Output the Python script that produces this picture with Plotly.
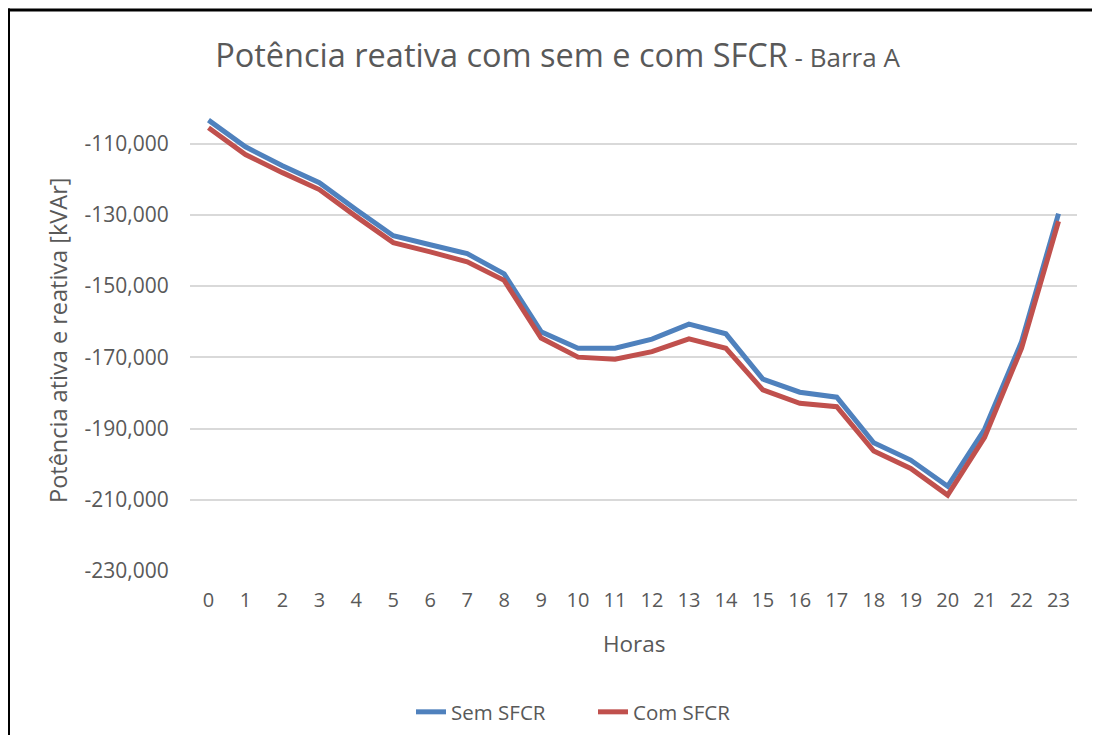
import plotly.graph_objects as go

horas = list(range(24))
sem_sfcr = [-103400, -110900, -116200, -121000, -128550, -135850, -138400, -140900,
            -146550, -162800, -167450, -167450, -164900, -160700, -163400, -176100,
            -179800, -181200, -194000, -198850, -206200, -190200, -165600, -129650]
com_sfcr = [-105550, -113060, -118150, -122900, -130500, -137800, -140400, -143200,
            -148400, -164600, -169950, -170550, -168400, -164800, -167450, -179150,
            -182900, -183850, -196300, -201200, -208700, -192500, -167450, -131800]
y_ticks = [-230000, -210000, -190000, -170000, -150000, -130000, -110000, -100000]
y_labels = ["-230,000", "-210,000", "-190,000", "-170,000", "-150,000", "-130,000", "-110,000", ""]

FONT = "Open Sans"
GRAY = "#595959"
OFF = 8  # page body margin
W, H = 1100 - OFF, 743 - 2 * OFF
L, R, T, B = 190 - OFF, 1077 - OFF, 108 - OFF, 571 - OFF

fig = go.Figure()
fig.add_trace(go.Scatter(x=horas, y=sem_sfcr, mode="lines", name="Sem SFCR",
                         line=dict(color="#4F81BD", width=5)))
fig.add_trace(go.Scatter(x=horas, y=com_sfcr, mode="lines", name="Com SFCR",
                         line=dict(color="#C0504D", width=5)))

def px(x):
    return (x - OFF - L) / (R - L)

def py(y):
    return (B - (y - OFF)) / (B - T)

fig.update_layout(
    width=W, height=H,
    margin=dict(l=L, r=W - R, t=T, b=H - B),
    paper_bgcolor="white", plot_bgcolor="white",
    font=dict(family=FONT, color=GRAY, size=20),
    title=dict(text="Potência reativa com sem e com SFCR<span style='font-size:26px'> - Barra A</span>",
               font=dict(family=FONT, size=32.5, color=GRAY),
               x=(557.5 - OFF) / W, xanchor="center", xref="container",
               y=1 - (56 - OFF) / H, yanchor="middle", yref="container"),
    xaxis=dict(type="linear", range=[-0.5, 23.5], tickvals=horas, ticktext=[str(h) for h in horas],
               showgrid=False, zeroline=False, showline=False,
               ticks="outside", ticklen=11, tickcolor="rgba(0,0,0,0)",
               tickfont=dict(size=20, color=GRAY)),
    yaxis=dict(range=[-230000, -100000], tickvals=y_ticks, ticktext=y_labels,
               showgrid=True, gridcolor="#D9D9D9", gridwidth=1.5, zeroline=False, showline=False,
               ticks="outside", ticklen=16, tickcolor="rgba(0,0,0,0)",
               tickfont=dict(size=21, color=GRAY)),
    legend=dict(orientation="h", xref="container", yref="container",
                x=(593 - OFF) / W, xanchor="center", y=1 - (712 - OFF) / H, yanchor="middle",
                font=dict(size=20.5, color=GRAY), entrywidth=137),
    showlegend=True,
)

fig.add_annotation(text="Horas", xref="paper", yref="paper", x=px(634), y=py(643),
                   showarrow=False, font=dict(size=22.5, color=GRAY), xanchor="center", yanchor="middle")
fig.add_annotation(text="Potência ativa e reativa [kVAr]", xref="paper", yref="paper",
                   x=px(58), y=py(341), textangle=-90, showarrow=False,
                   font=dict(size=23.5, color=GRAY), xanchor="center", yanchor="middle")

# chart-area border (top and left edges visible)
fig.add_shape(type="line", xref="paper", yref="paper", x0=px(8), x1=px(1100), y0=py(10), y1=py(10),
              line=dict(color="black", width=3))
fig.add_shape(type="line", xref="paper", yref="paper", x0=px(8), x1=px(8), y0=py(8.5), y1=py(760),
              line=dict(color="black", width=4))

fig.write_html("out.html")
